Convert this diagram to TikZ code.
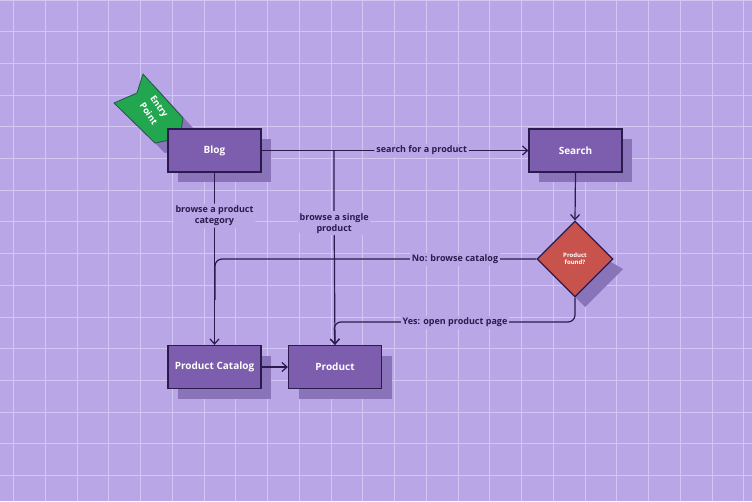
\documentclass[tikz,border=0pt]{standalone}
\usepackage{fontspec}
\setmainfont{Open Sans}
\usetikzlibrary{shapes.geometric,arrows.meta}
\definecolor{bg}{HTML}{B9A6E6}
\definecolor{gridc}{HTML}{D3C6F2}
\definecolor{boxc}{HTML}{7D5DAE}
\definecolor{edge}{HTML}{2B1A4D}
\definecolor{shad}{HTML}{8A74B9}
\definecolor{redc}{HTML}{C8534D}
\definecolor{greenc}{HTML}{22A650}
\tikzset{
  x=1pt,y=-1pt,
  box/.style={draw=edge,line width=1.3pt,fill=boxc,minimum width=93pt,minimum height=43pt,text=white,font=\bfseries\fontsize{10}{12}\selectfont},
  shadowbox/.style={fill=shad,minimum width=93pt,minimum height=43pt},
  conn/.style={draw=edge,line width=1.2pt,rounded corners=7pt},
  arr/.style={-{Straight Barb[length=5pt,width=9pt]}},
  lbl/.style={fill=bg,text=edge,font=\bfseries\fontsize{9}{11}\selectfont,align=center,inner sep=2pt}
}
\begin{document}
\begin{tikzpicture}
\useasboundingbox (0,0) rectangle (752,501);
\fill[bg] (0,0) rectangle (752,501);
\foreach \i in {0,...,23} \draw[gridc,line width=1pt] (13.5+31.75*\i,0) -- (13.5+31.75*\i,501);
\foreach \j in {0,...,16} \draw[gridc,line width=1pt] (0,31.7*\j) -- (752,31.7*\j);
% shadows
\foreach \p in {(224.5,160.5),(585.5,160.5),(224.5,377),(345,377)} \node[shadowbox] at \p {};
\fill[shad] (585,247) -- (623,269) -- (585,307) -- (547,269) -- cycle;
\fill[shad] (153,84) -- (193,128) -- (190,148) -- (165,153) -- (124,113) -- (147,103) -- cycle;
% flag
\fill[greenc,draw=edge!60!greenc,line width=0.8pt,line join=round] (143,74) -- (183,118) -- (180,138) -- (155,143) -- (114,103) -- (137,93) -- cycle;
\node[text=white,font=\bfseries\fontsize{9}{13}\selectfont,rotate=-55,align=center] (entry) at (154,110) {Entry\\Point};
% nodes
\node[box] (blog) at (214.5,150.5) {Blog};
\node[box] (search) at (575.5,150.5) {Search};
\node[box] (cat) at (214.5,367) {Product Catalog};
\node[box] (prod) at (335,367) {Product};
\node[diamond,draw=edge,line width=1.3pt,fill=redc,minimum width=76pt,minimum height=76pt,inner sep=0pt,text=white,font=\bfseries\fontsize{6}{7}\selectfont,align=center] (dec) at (575,259) {Product\\found?};
\coordinate (j) at (334,151);
% connectors
\draw[conn,arr] (blog.east) -- (search.west) node[lbl,pos=0.6] {search for a product};
\draw[conn,arr] (j) -- (334,200) -- (prod.north) node[lbl,pos=0.16] {browse a single\\product};
\draw[conn,arr] (blog.south) -- (cat.north) node[lbl,pos=0.25] {browse a product\\category};
\draw[conn,arr] (search.south) -- (dec.north);
\draw[conn] (dec.west) -- (215,259) -- (215,300);
\draw[conn,arr] (dec.south) -- (575,322) -- (334,322) -- (prod.north);
\node[lbl] (yes) at (455,322) {Yes: open product page};
\node[lbl] (no) at (455,259) {No: browse catalog};
\draw[conn,arr] (cat.east) -- (prod.west);
\end{tikzpicture}
\end{document}
